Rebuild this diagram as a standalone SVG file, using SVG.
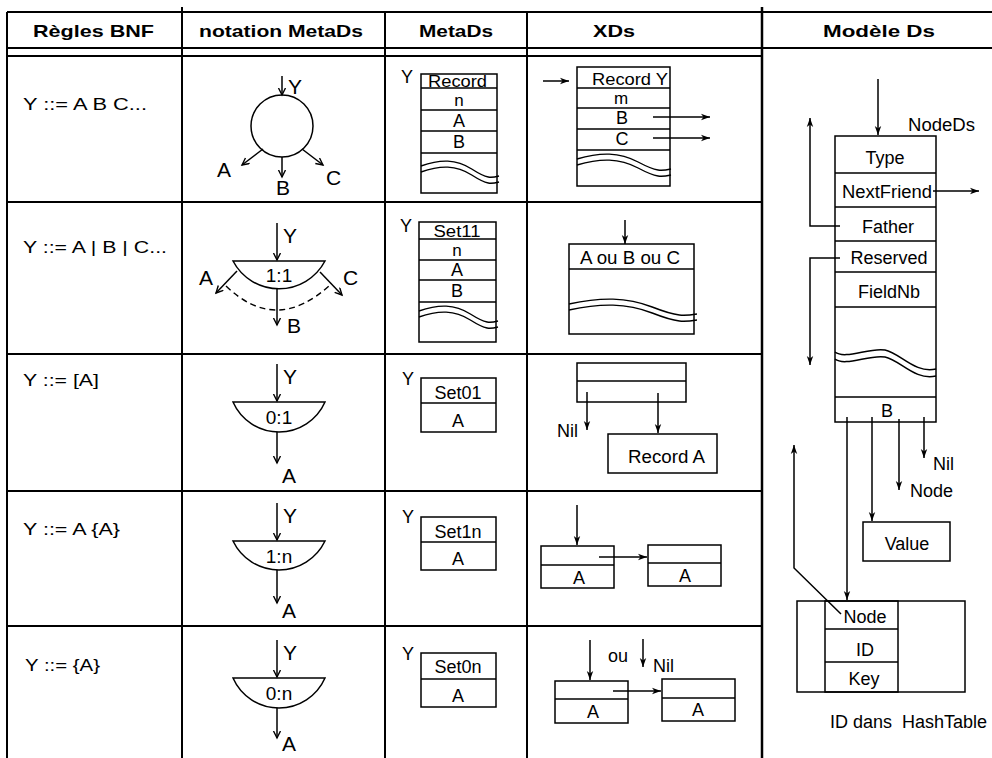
<svg xmlns="http://www.w3.org/2000/svg" xmlns:xlink="http://www.w3.org/1999/xlink" width="992" height="758" viewBox="0 0 992 758">
  <style>
    .t { font-family: "Liberation Sans", Arial, sans-serif; fill: #000; }
    .h { font-weight: bold; font-size: 17px; white-space: pre; }
    .r { font-size: 17px; }
    .m { font-size: 18px; }
    .s { font-size: 17px; }
    .tt { font-size: 16px; }
    .lb { font-size: 21px; }
    .rt { font-size: 19px; }
    .c { text-anchor: middle; }
    .grid { stroke: #000; stroke-width: 2; fill: none; }
    .box { stroke: #000; stroke-width: 1.5; fill: none; }
    .ln { stroke: #000; stroke-width: 1.5; fill: none; }
    .ar { stroke: #000; stroke-width: 1.5; fill: none; marker-end: url(#ah); }
    .av { stroke: #000; stroke-width: 1.5; fill: none; marker-end: url(#av); }
    .dash { stroke: #000; stroke-width: 1.4; fill: none; stroke-dasharray: 6 4; }
  </style>
  <defs>
    <!-- filled barbed head used in the data-structure columns -->
    <marker id="ah" markerWidth="10" markerHeight="8" refX="9" refY="4" orient="auto" markerUnits="userSpaceOnUse">
      <path d="M0,0.8 L9,4 L0,7.2 L2.5,4 z" fill="#000"/>
    </marker>
    <!-- open V head used in the notation column -->
    <marker id="av" markerWidth="10" markerHeight="10" refX="7.5" refY="4" orient="auto" markerUnits="userSpaceOnUse">
      <path d="M0.5,0.5 L7.5,4 L0.5,7.5" fill="none" stroke="#000" stroke-width="1.4"/>
    </marker>
    <!-- double wavy break line, 100 units wide -->
    <path id="wv" d="M0,0 C25,-7 45,-7 65,3 S90,12 100,10 M0,6 C25,-1 45,-1 65,9 S90,18 100,16" fill="none" stroke="#000" stroke-width="1.4" vector-effect="non-scaling-stroke"/>
  </defs>
  <rect width="992" height="758" fill="#fff"/>

  <!-- table grid -->
  <g id="grid" class="grid">
    <line x1="7" y1="12" x2="992" y2="12"/>
    <line x1="7" y1="48" x2="992" y2="48"/>
    <line x1="7" y1="56" x2="762" y2="56"/>
    <line x1="7" y1="12" x2="7" y2="758"/>
    <line x1="182" y1="7" x2="182" y2="758"/>
    <line x1="385" y1="12" x2="385" y2="758"/>
    <line x1="527" y1="12" x2="527" y2="758"/>
    <line x1="762" y1="7" x2="762" y2="758" stroke-width="2.5"/>
    <line x1="7" y1="202" x2="762" y2="202"/>
    <line x1="7" y1="354" x2="762" y2="354"/>
    <line x1="7" y1="491" x2="762" y2="491"/>
    <line x1="7" y1="626" x2="762" y2="626"/>
  </g>

  <!-- column headers -->
  <g id="headers" class="t h">
    <text x="33" y="37" textLength="121" lengthAdjust="spacingAndGlyphs">Règles BNF</text>
    <text x="199" y="37" textLength="164" lengthAdjust="spacingAndGlyphs">notation MetaDs</text>
    <text x="419" y="37" textLength="74" lengthAdjust="spacingAndGlyphs">MetaDs</text>
    <text x="593" y="37" textLength="42" lengthAdjust="spacingAndGlyphs">XDs</text>
    <text x="823" y="37" textLength="112" lengthAdjust="spacingAndGlyphs">Modèle  Ds</text>
  </g>

  <!-- BNF rules -->
  <g id="bnf" class="t r">
    <text x="23" y="110" textLength="124" lengthAdjust="spacingAndGlyphs">Y ::= A B C...</text>
    <text x="23" y="253" textLength="144" lengthAdjust="spacingAndGlyphs">Y ::= A | B | C...</text>
    <text x="23" y="386" textLength="76" lengthAdjust="spacingAndGlyphs">Y ::= [A]</text>
    <text x="23" y="535" textLength="97" lengthAdjust="spacingAndGlyphs">Y ::= A {A}</text>
    <text x="25" y="671" textLength="75" lengthAdjust="spacingAndGlyphs">Y ::= {A}</text>
  </g>

  <!-- notation MetaDs: record node -->
  <g id="n-record">
    <circle cx="282" cy="126" r="31" class="box"/>
    <line x1="282" y1="76" x2="282" y2="95" class="av"/>
    <line x1="263" y1="149" x2="242" y2="165" class="av"/>
    <line x1="282" y1="157" x2="282" y2="177" class="av"/>
    <line x1="302" y1="149" x2="323" y2="165" class="av"/>
    <text x="288" y="94" class="t lb">Y</text>
    <text x="217" y="177" class="t lb">A</text>
    <text x="276" y="195" class="t lb">B</text>
    <text x="326" y="185" class="t lb">C</text>
  </g>

  <!-- notation MetaDs: 1:1 alternative -->
  <g id="n-alt">
    <line x1="277" y1="223" x2="277" y2="260" class="av"/>
    <path d="M233,261 A52,52 0 0 0 325,261 Z" class="box"/>
    <text x="279" y="282" class="t rt c">1:1</text>
    <line x1="237" y1="271" x2="216" y2="293" class="av"/>
    <line x1="320" y1="272" x2="342" y2="295" class="av"/>
    <line x1="277" y1="289" x2="277" y2="325" class="av"/>
    <path d="M226,286 Q277,335 331,284" class="dash"/>
    <text x="283" y="243" class="t lb">Y</text>
    <text x="199" y="285" class="t lb">A</text>
    <text x="343" y="285" class="t lb">C</text>
    <text x="287" y="333" class="t lb">B</text>
  </g>

  <!-- notation MetaDs: 0:1 option -->
  <g id="n-opt">
    <line x1="277" y1="364" x2="277" y2="401" class="av"/>
    <path d="M233,402 A50.3,50.3 0 0 0 325,402 Z" class="box"/>
    <text x="279" y="424" class="t rt c">0:1</text>
    <line x1="277" y1="432" x2="277" y2="463" class="av"/>
    <text x="283" y="384" class="t lb">Y</text>
    <text x="282" y="483" class="t lb">A</text>
  </g>

  <!-- notation MetaDs: 1:n list -->
  <g id="n-list1">
    <line x1="277" y1="503" x2="277" y2="540" class="av"/>
    <path d="M233,541 A51,51 0 0 0 325,541 Z" class="box"/>
    <text x="279" y="563" class="t rt c">1:n</text>
    <line x1="277" y1="570" x2="277" y2="603" class="av"/>
    <text x="283" y="523" class="t lb">Y</text>
    <text x="282" y="618" class="t lb">A</text>
  </g>

  <!-- notation MetaDs: 0:n list -->
  <g id="n-list0">
    <line x1="277" y1="640" x2="277" y2="677" class="av"/>
    <path d="M233,678 A50.3,50.3 0 0 0 325,678 Z" class="box"/>
    <text x="279" y="700" class="t rt c">0:n</text>
    <line x1="277" y1="708" x2="277" y2="738" class="av"/>
    <text x="283" y="660" class="t lb">Y</text>
    <text x="282" y="751" class="t lb">A</text>
  </g>

  <!-- MetaDs descriptors -->
  <g id="md-record">
    <text x="401" y="83" class="t m">Y</text>
    <rect x="421" y="74" width="76" height="119" class="box"/>
    <path d="M421,88 H497 M421,110 H497 M421,131 H497 M421,153 H497" class="ln"/>
    <use xlink:href="#wv" transform="translate(421,166) scale(0.78,1)"/>
    <text x="428" y="87" textLength="59" lengthAdjust="spacingAndGlyphs" class="t tt">Record</text>
    <text x="459" y="106" class="t s c">n</text>
    <text x="459" y="127" class="t m c">A</text>
    <text x="459" y="148" class="t m c">B</text>
  </g>

  <g id="md-set11">
    <text x="400" y="232" class="t m">Y</text>
    <rect x="419" y="222" width="77" height="120" class="box"/>
    <path d="M419,239 H496 M419,260 H496 M419,280 H496 M419,302 H496" class="ln"/>
    <use xlink:href="#wv" transform="translate(419,311) scale(0.79,1)"/>
    <text x="457" y="237" textLength="47" lengthAdjust="spacingAndGlyphs" class="t tt c">Set11</text>
    <text x="457" y="256" class="t s c">n</text>
    <text x="457" y="276" class="t m c">A</text>
    <text x="457" y="297" class="t m c">B</text>
  </g>

  <g id="md-set01">
    <text x="402" y="385" class="t m">Y</text>
    <rect x="421" y="378" width="75" height="54" class="box"/>
    <line x1="421" y1="403" x2="496" y2="403" class="ln"/>
    <text x="458" y="399" class="t m c">Set01</text>
    <text x="458" y="427" class="t m c">A</text>
  </g>

  <g id="md-set1n">
    <text x="402" y="523" class="t m">Y</text>
    <rect x="421" y="517" width="75" height="53" class="box"/>
    <line x1="421" y1="542" x2="496" y2="542" class="ln"/>
    <text x="458" y="538" class="t m c">Set1n</text>
    <text x="458" y="565" class="t m c">A</text>
  </g>

  <g id="md-set0n">
    <text x="402" y="660" class="t m">Y</text>
    <rect x="421" y="653" width="75" height="54" class="box"/>
    <line x1="421" y1="679" x2="496" y2="679" class="ln"/>
    <text x="458" y="673" class="t m c">Set0n</text>
    <text x="458" y="702" class="t m c">A</text>
  </g>

  <!-- XDs instances -->
  <g id="xd-record">
    <rect x="577" y="67" width="93" height="119" class="box"/>
    <path d="M577,88 H670 M577,108 H670 M577,129 H670 M577,150 H670" class="ln"/>
    <use xlink:href="#wv" transform="translate(577,159) scale(0.94,1)"/>
    <text x="592" y="85" textLength="76" lengthAdjust="spacingAndGlyphs" class="t tt">Record Y</text>
    <text x="621" y="104" class="t s c">m</text>
    <text x="622" y="124" class="t m c">B</text>
    <text x="622" y="145" class="t m c">C</text>
  </g>

  <g id="xd-alt">
    <rect x="569" y="244" width="125" height="90" class="box"/>
    <line x1="569" y1="269" x2="694" y2="269" class="ln"/>
    <use xlink:href="#wv" transform="translate(569,304) scale(1.28,1)"/>
    <text x="580" y="264" textLength="100" lengthAdjust="spacingAndGlyphs" class="t m">A ou B ou C</text>
  </g>

  <g id="xd-opt">
    <rect x="577" y="363" width="109" height="39" class="box"/>
    <line x1="577" y1="381" x2="686" y2="381" class="ln"/>
    <text x="557" y="437" class="t m">Nil</text>
    <rect x="608" y="434" width="109" height="39" class="box"/>
    <text x="628" y="463" textLength="77" lengthAdjust="spacingAndGlyphs" class="t m">Record A</text>
  </g>

  <g id="xd-list1">
    <rect x="541" y="546" width="73" height="42" class="box"/>
    <line x1="541" y1="565" x2="614" y2="565" class="ln"/>
    <text x="579" y="584" class="t m c">A</text>
    <rect x="648" y="545" width="73" height="41" class="box"/>
    <line x1="648" y1="563" x2="721" y2="563" class="ln"/>
    <text x="685" y="582" class="t m c">A</text>
  </g>

  <g id="xd-list0">
    <text x="608" y="662" class="t m">ou</text>
    <text x="653" y="672" class="t m">Nil</text>
    <rect x="555" y="681" width="73" height="42" class="box"/>
    <line x1="555" y1="699" x2="628" y2="699" class="ln"/>
    <text x="593" y="718" class="t m c">A</text>
    <rect x="662" y="679" width="73" height="42" class="box"/>
    <line x1="662" y1="698" x2="735" y2="698" class="ln"/>
    <text x="698" y="716" class="t m c">A</text>
  </g>

  <!-- Ds model: node record -->
  <g id="nodeds">
    <rect x="835" y="136" width="101" height="286" class="box"/>
    <path d="M835,173 H936 M835,207 H936 M835,241 H936 M835,272 H936 M835,307 H936 M835,397 H936" class="ln"/>
    <path d="M835,352 C845,360 870,347 885,350 S915,374 936,369 M835,359 C845,367 870,354 885,357 S915,381 936,376" class="ln" stroke-width="1.4"/>
    <text x="908" y="131" textLength="67" lengthAdjust="spacingAndGlyphs" class="t m">NodeDs</text>
    <text x="885" y="164" class="t m c">Type</text>
    <text x="842" y="198" textLength="90" lengthAdjust="spacingAndGlyphs" class="t m">NextFriend</text>
    <text x="888" y="233" class="t m c">Father</text>
    <text x="889" y="264" class="t m c">Reserved</text>
    <text x="889" y="298" class="t m c">FieldNb</text>
    <text x="887" y="417" class="t m c">B</text>
  </g>

  <g id="value">
    <rect x="863" y="522" width="87" height="39" class="box"/>
    <text x="907" y="550" class="t m c">Value</text>
  </g>

  <g id="hashtable">
    <rect x="797" y="601" width="168" height="91" class="box"/>
    <rect x="825" y="601" width="73" height="91" class="box" stroke-width="2"/>
    <path d="M825,629 H898 M825,662 H898" class="ln"/>
    <text x="865" y="623" class="t m c">Node</text>
    <text x="865" y="656" class="t m c">ID</text>
    <text x="864" y="685" class="t m c">Key</text>
    <text x="830" y="728" class="t m" style="white-space:pre">ID dans  HashTable</text>
  </g>

  <g id="labels" class="t m">
    <text x="933" y="470">Nil</text>
    <text x="910" y="497">Node</text>
  </g>

  <!-- connectors -->
  <g id="connectors">
    <line x1="543" y1="81" x2="569" y2="81" class="ar"/>
    <line x1="653" y1="117" x2="710" y2="117" class="ar"/>
    <line x1="653" y1="138" x2="710" y2="138" class="ar"/>
    <line x1="625" y1="220" x2="625" y2="244" class="ar"/>
    <line x1="587" y1="392" x2="587" y2="430" class="ar"/>
    <line x1="658" y1="393" x2="658" y2="433" class="ar"/>
    <line x1="577" y1="505" x2="577" y2="545" class="ar"/>
    <line x1="599" y1="557" x2="647" y2="557" class="ar"/>
    <line x1="590" y1="640" x2="590" y2="680" class="ar"/>
    <line x1="643" y1="639" x2="643" y2="667" class="ar"/>
    <line x1="613" y1="691" x2="661" y2="691" class="ar"/>
    <line x1="878" y1="79" x2="878" y2="135" class="ar"/>
    <line x1="933" y1="191" x2="979" y2="191" class="ar"/>
    <polyline points="840,226 810,226 810,118" class="ar"/>
    <polyline points="840,258 810,258 810,365" class="ar"/>
    <line x1="847" y1="417" x2="847" y2="600" class="ar"/>
    <line x1="872" y1="417" x2="872" y2="521" class="ar"/>
    <line x1="899" y1="419" x2="899" y2="490" class="ar"/>
    <line x1="924" y1="417" x2="924" y2="458" class="ar"/>
    <polyline points="841,614 794,568 794,445" class="ar"/>
  </g>
</svg>
